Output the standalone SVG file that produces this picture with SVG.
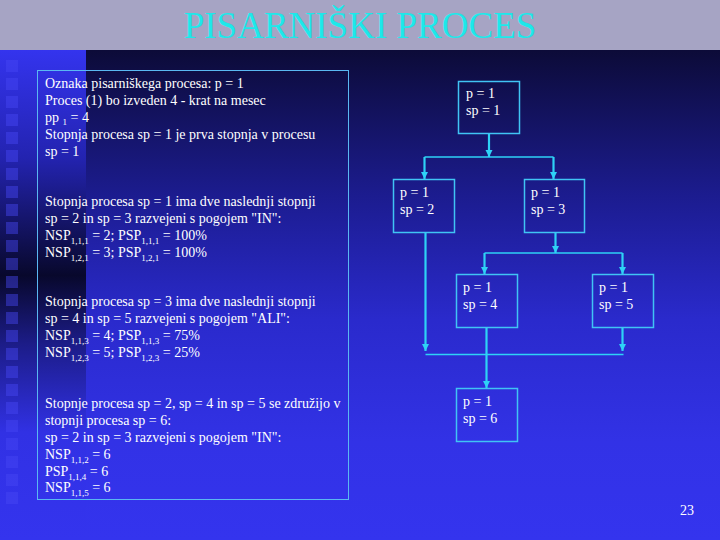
<svg xmlns="http://www.w3.org/2000/svg" width="720" height="540" viewBox="0 0 720 540">
  <defs>
    <linearGradient id="bg" x1="0" y1="50" x2="0" y2="540" gradientUnits="userSpaceOnUse">
      <stop offset="0" stop-color="#0c0b38"/>
      <stop offset="0.3" stop-color="#1c1c90"/>
      <stop offset="0.55" stop-color="#2a2acc"/>
      <stop offset="0.8" stop-color="#3232e6"/>
      <stop offset="1" stop-color="#3434ee"/>
    </linearGradient>
    <linearGradient id="strip" x1="0" y1="50" x2="0" y2="540" gradientUnits="userSpaceOnUse">
      <stop offset="0" stop-color="#3434ee"/>
      <stop offset="0.22" stop-color="#2323b0"/>
      <stop offset="0.46" stop-color="#08082c"/>
      <stop offset="0.6" stop-color="#1c1c88"/>
      <stop offset="0.78" stop-color="#3131e4"/>
      <stop offset="1" stop-color="#3434ee"/>
    </linearGradient>
    <marker id="ah" viewBox="0 0 10 10" refX="10" refY="5" markerWidth="3.2" markerHeight="3.2" markerUnits="strokeWidth" orient="auto">
      <path d="M0,0 L10,5 L0,10 Z" fill="#2ed2f6"/>
    </marker>
    <marker id="ahs" viewBox="0 0 10 10" refX="10" refY="5" markerWidth="4.5" markerHeight="4.5" markerUnits="strokeWidth" orient="auto">
      <path d="M0,0 L10,5 L0,10 Z" fill="#2ed2f6"/>
    </marker>
  </defs>
  <style>
    .t { font-family: "Liberation Serif", "Times New Roman", serif; font-size: 14px; fill: #ffffff; }
    .sub { font-size: 9px; }
    .title { font-family: "Liberation Serif", "Times New Roman", serif; font-size: 37px; fill: #1de8ea; }
    .box { fill: none; stroke: #5ab8f2; stroke-width: 1; }
    .node { fill: none; stroke: #40c4f4; stroke-width: 1.5; }
    .stem { fill: none; stroke: #2ed2f6; stroke-width: 2.2; }
    .bar { fill: none; stroke: #2ed2f6; stroke-width: 1.4; }
    .sq { fill: #4646f4; opacity: 0.45; }
  </style>

  <!-- background -->
  <rect x="0" y="0" width="720" height="540" fill="url(#bg)"/>
  <rect x="0" y="50" width="86" height="490" fill="url(#strip)"/>
  <g id="squares">
    <rect class="sq" x="6" y="60" width="12" height="12"/>
    <rect class="sq" x="6" y="78" width="12" height="12"/>
    <rect class="sq" x="6" y="96" width="12" height="12"/>
    <rect class="sq" x="6" y="114" width="12" height="12"/>
    <rect class="sq" x="6" y="132" width="12" height="12"/>
    <rect class="sq" x="6" y="150" width="12" height="12"/>
    <rect class="sq" x="6" y="168" width="12" height="12"/>
    <rect class="sq" x="6" y="186" width="12" height="12"/>
    <rect class="sq" x="6" y="204" width="12" height="12"/>
    <rect class="sq" x="6" y="222" width="12" height="12"/>
    <rect class="sq" x="6" y="240" width="12" height="12"/>
    <rect class="sq" x="6" y="258" width="12" height="12"/>
    <rect class="sq" x="6" y="276" width="12" height="12"/>
    <rect class="sq" x="6" y="294" width="12" height="12"/>
    <rect class="sq" x="6" y="312" width="12" height="12"/>
    <rect class="sq" x="6" y="330" width="12" height="12"/>
    <rect class="sq" x="6" y="348" width="12" height="12"/>
    <rect class="sq" x="6" y="366" width="12" height="12"/>
    <rect class="sq" x="6" y="384" width="12" height="12"/>
    <rect class="sq" x="6" y="402" width="12" height="12"/>
    <rect class="sq" x="6" y="420" width="12" height="12"/>
    <rect class="sq" x="6" y="438" width="12" height="12"/>
    <rect class="sq" x="6" y="456" width="12" height="12"/>
    <rect class="sq" x="6" y="474" width="12" height="12"/>
    <rect class="sq" x="6" y="492" width="12" height="12"/>
  </g>

  <!-- title band -->
  <rect x="0" y="0" width="720" height="50" fill="#a6a4c4"/>
  <text class="title" x="360" y="38" text-anchor="middle">PISARNIŠKI PROCES</text>

  <!-- description box -->
  <g id="description">
    <rect class="box" x="37.5" y="70.5" width="311" height="429"/>
    <text class="t" x="45" y="88">Oznaka pisarniškega procesa: p = 1</text>
    <text class="t" x="45" y="105">Proces (1) bo izveden 4 - krat na mesec</text>
    <text class="t" x="45" y="122">pp <tspan class="sub" dy="3">1</tspan><tspan dy="-3"> = 4</tspan></text>
    <text class="t" x="45" y="139">Stopnja procesa sp = 1 je prva stopnja v procesu</text>
    <text class="t" x="45" y="156">sp = 1</text>

    <text class="t" x="45" y="206">Stopnja procesa sp = 1 ima dve naslednji stopnji</text>
    <text class="t" x="45" y="223">sp = 2 in sp = 3 razvejeni s pogojem "IN":</text>
    <text class="t" x="45" y="240">NSP<tspan class="sub" dy="4">1,1,1</tspan><tspan dy="-4"> = 2; PSP</tspan><tspan class="sub" dy="4">1,1,1</tspan><tspan dy="-4"> = 100%</tspan></text>
    <text class="t" x="45" y="257">NSP<tspan class="sub" dy="4">1,2,1</tspan><tspan dy="-4"> = 3; PSP</tspan><tspan class="sub" dy="4">1,2,1</tspan><tspan dy="-4"> = 100%</tspan></text>

    <text class="t" x="45" y="306">Stopnja procesa sp = 3 ima dve naslednji stopnji</text>
    <text class="t" x="45" y="323">sp = 4 in sp = 5 razvejeni s pogojem "ALI":</text>
    <text class="t" x="45" y="340">NSP<tspan class="sub" dy="4">1,1,3</tspan><tspan dy="-4"> = 4; PSP</tspan><tspan class="sub" dy="4">1,1,3</tspan><tspan dy="-4"> = 75%</tspan></text>
    <text class="t" x="45" y="357">NSP<tspan class="sub" dy="4">1,2,3</tspan><tspan dy="-4"> = 5; PSP</tspan><tspan class="sub" dy="4">1,2,3</tspan><tspan dy="-4"> = 25%</tspan></text>

    <text class="t" x="45" y="408">Stopnje procesa sp = 2, sp = 4 in sp = 5 se združijo v</text>
    <text class="t" x="45" y="425">stopnji procesa sp = 6:</text>
    <text class="t" x="45" y="442">sp = 2 in sp = 3 razvejeni s pogojem "IN":</text>
    <text class="t" x="45" y="459">NSP<tspan class="sub" dy="4">1,1,2</tspan><tspan dy="-4"> = 6</tspan></text>
    <text class="t" x="45" y="476">PSP<tspan class="sub" dy="4">1,1,4</tspan><tspan dy="-4"> = 6</tspan></text>
    <text class="t" x="45" y="492">NSP<tspan class="sub" dy="4">1,1,5</tspan><tspan dy="-4"> = 6</tspan></text>
  </g>

  <!-- connectors -->
  <g id="connectors">
    <path class="stem" d="M489,133 V157" marker-end="url(#ah)"/>
    <path class="bar" d="M424.5,157 H553.5"/>
    <path class="stem" d="M424.5,157 V179" marker-end="url(#ah)"/>
    <path class="stem" d="M553.5,157 V179" marker-end="url(#ah)"/>

    <path class="stem" d="M555.5,233 V253" marker-end="url(#ah)"/>
    <path class="bar" d="M484.5,253 H622.5"/>
    <path class="stem" d="M484.5,253 V274" marker-end="url(#ah)"/>
    <path class="stem" d="M622.5,253 V274" marker-end="url(#ah)"/>

    <path class="stem" d="M425.5,233 V351" marker-end="url(#ah)"/>
    <path class="stem" d="M622.5,327.5 V351" marker-end="url(#ah)"/>
    <path class="bar" d="M425.5,354.5 H623.5"/>
    <path class="stem" d="M486.5,327.5 V388" marker-end="url(#ah)"/>
  </g>

  <!-- nodes -->
  <g id="n1">
    <rect class="node" x="458.5" y="81.5" width="61" height="52"/>
    <text class="t" x="466" y="98">p = 1</text>
    <text class="t" x="466" y="115">sp = 1</text>
  </g>
  <g id="n2">
    <rect class="node" x="393.5" y="179.5" width="61" height="53"/>
    <text class="t" x="400" y="197">p = 1</text>
    <text class="t" x="400" y="214">sp = 2</text>
  </g>
  <g id="n3">
    <rect class="node" x="524.5" y="179.5" width="60" height="53"/>
    <text class="t" x="531" y="197">p = 1</text>
    <text class="t" x="531" y="214">sp = 3</text>
  </g>
  <g id="n4">
    <rect class="node" x="456.5" y="274.5" width="61" height="53"/>
    <text class="t" x="463" y="292">p = 1</text>
    <text class="t" x="463" y="309">sp = 4</text>
  </g>
  <g id="n5">
    <rect class="node" x="592.5" y="274.5" width="61" height="53"/>
    <text class="t" x="599" y="292">p = 1</text>
    <text class="t" x="599" y="309">sp = 5</text>
  </g>
  <g id="n6">
    <rect class="node" x="456.5" y="388.5" width="61" height="53"/>
    <text class="t" x="463" y="406">p = 1</text>
    <text class="t" x="463" y="423">sp = 6</text>
  </g>

  <text class="t" x="694" y="515" text-anchor="end">23</text>
</svg>
